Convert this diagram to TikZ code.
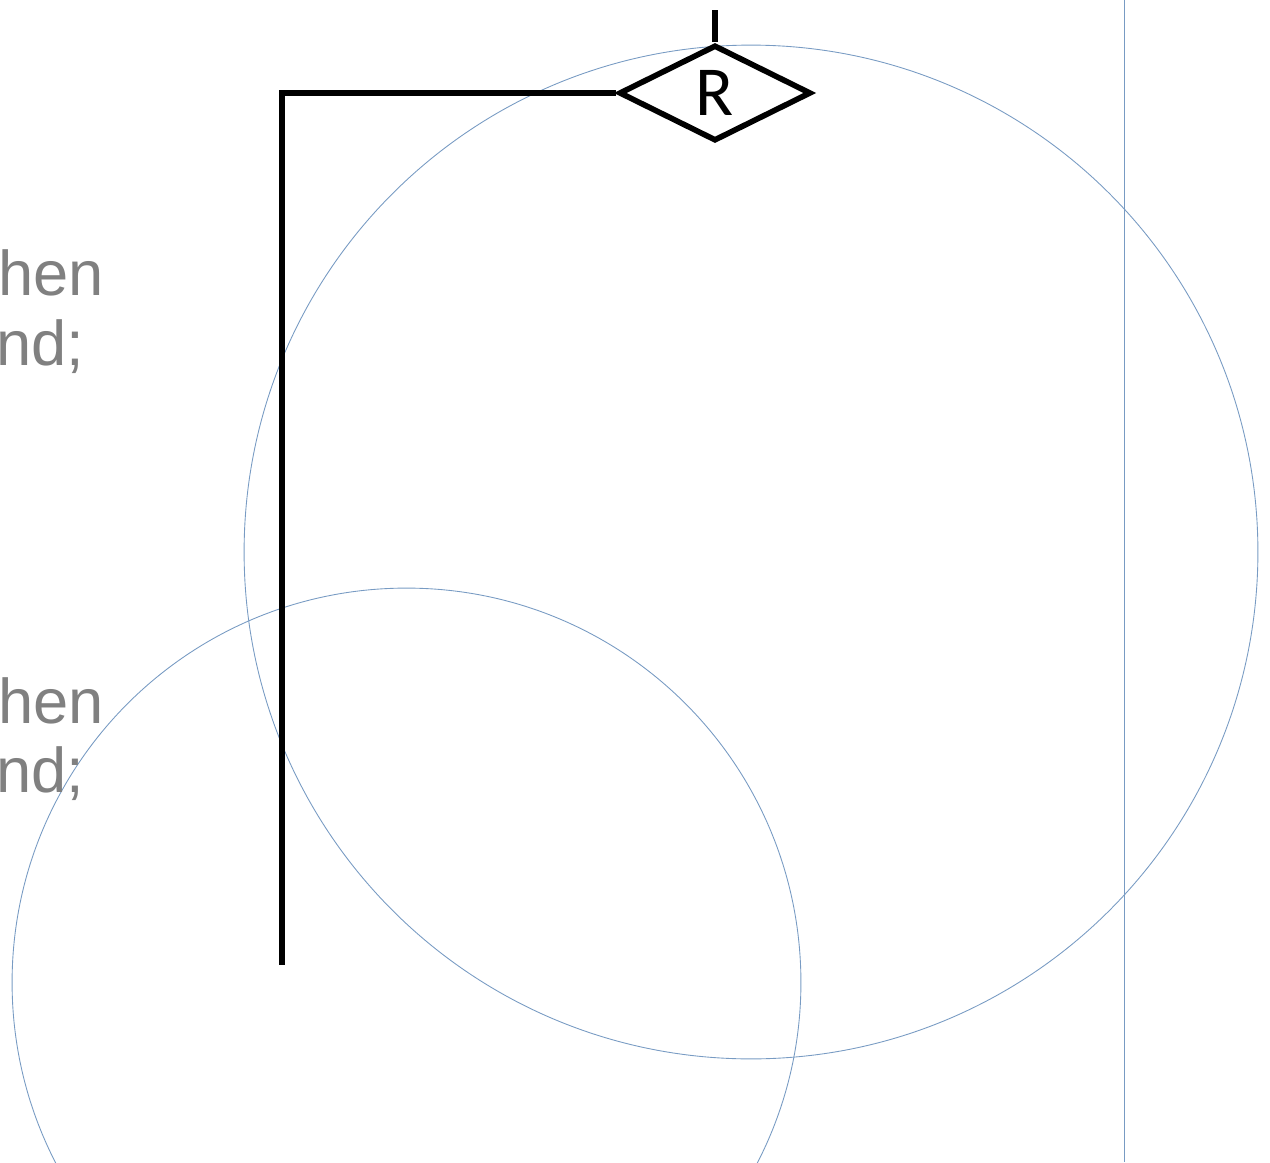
\documentclass[tikz,border=0pt]{standalone}
\usepackage{fontspec}
\setmainfont{Liberation Sans}
\newfontfamily\relfont{Carlito}
\usetikzlibrary{shapes.geometric, positioning}
\definecolor{guideblue}{RGB}{120, 155, 195}
\definecolor{codegray}{RGB}{128, 128, 128}

\begin{document}
\begin{tikzpicture}[
    x=0.02cm, y=-0.02cm,
    guide/.style={draw=guideblue, line width=0.5pt},
    wire/.style={draw=black, line width=3.2pt},
    relbox/.style={diamond, draw=black, line width=3.2pt, aspect=2, inner sep=0pt,
                   minimum width=3.84cm, minimum height=1.92cm,
                   font=\relfont\fontsize{40}{40}\selectfont},
    codeline/.style={text=codegray, font=\fontsize{36}{42}\selectfont,
                     anchor=base west, inner sep=0pt}
]
\useasboundingbox (0,0) rectangle (1270,1162);
\clip (0,0) rectangle (1270,1162);

% =========== guides ===========
\coordinate (bigc)   at (751,552);
\coordinate (smallc) at (406.5,982.5);
\coordinate (vtop)   at (1124,0);
\coordinate (vbot)   at (1124,1162);

\draw[guide] (bigc)   circle[radius=10.14cm];
\draw[guide] (smallc) circle[radius=7.89cm];
\draw[guide] (vtop) -- (vbot);

% =========== code text (cut at the left) ===========
\node[codeline] (thenA) at (-2,295) {hen};
\node[codeline] (endA)  at (-4,365) {nd;};
\node[codeline] (thenB) at (-2,723) {hen};
\node[codeline] (endB)  at (-4,792) {nd;};

% =========== relation diamond and its wires ===========
\node[relbox] (rel) at (715,93) {R};
\coordinate (up)   at (715,10);
\coordinate (tail) at (282,965);

\draw[wire] (rel.north) -- (up);
\draw[wire] (rel.west) -| (tail);

\end{tikzpicture}
\end{document}
